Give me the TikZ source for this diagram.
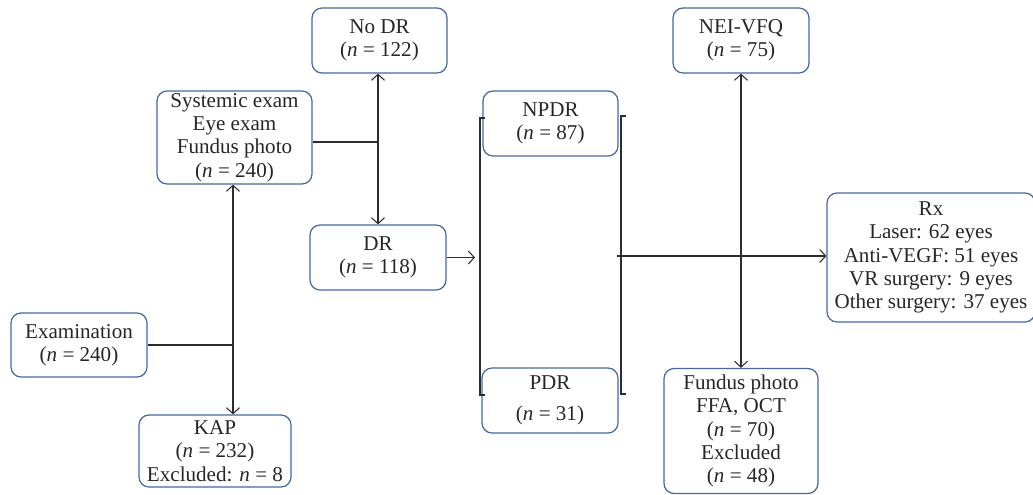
\documentclass[tikz,border=0pt]{standalone}
\usepackage{fontspec}
\setmainfont{Liberation Serif}
\usetikzlibrary{arrows.meta}
\definecolor{boxblue}{RGB}{70,104,158}
\definecolor{linegray}{RGB}{45,45,45}

\begin{document}
\begin{tikzpicture}[x=0.02cm,y=-0.02cm,
    box/.style={draw=boxblue, line width=0.7pt, rounded corners=0.2cm, align=center,
      inner sep=0pt, font=\fontsize{12}{13.3}\selectfont, text=black!85},
    conn/.style={draw=linegray, line width=0.6pt},
    arr/.style={conn, -{Straight Barb[length=3.4pt,width=7.4pt]}}]
    \useasboundingbox (0,0) rectangle (1033,494);

    % Draw left part
    \node[box, minimum width=2.72cm, minimum height=1.28cm] (exam) at (79,345) {Examination\\(\textit{n} = 240)};
    \node[box, minimum width=3.04cm, minimum height=1.44cm] (kap) at (215,451) {KAP\\(\textit{n} = 232)\\Excluded: \textit{n} = 8};
    \node[box, minimum width=3.1cm, minimum height=1.86cm] (sys) at (234.5,137.5) {Systemic exam\\Eye exam\\Fundus photo\\(\textit{n} = 240)};
    \coordinate (j1) at (233,345);
    \draw[conn] (exam.east) -- (j1);
    \draw[arr] (j1) -- (j1 |- sys.south);
    \draw[arr] (j1) -- (j1 |- kap.north);

    % Draw DR split
    \node[box, minimum width=2.7cm, minimum height=1.3cm] (nodr) at (379.5,40.5) {No DR\\(\textit{n} = 122)};
    \node[box, minimum width=2.72cm, minimum height=1.3cm] (dr) at (378,257.5) {DR\\(\textit{n} = 118)};
    \coordinate (j2) at (378,142);
    \draw[conn] (sys.east |- j2) -- (j2);
    \draw[arr] (j2) -- (j2 |- nodr.south);
    \draw[arr] (j2) -- (j2 |- dr.north);

    % Draw grading bracket
    \node[box, minimum width=2.7cm, minimum height=1.3cm] (npdr) at (550.5,123.5) {NPDR\\(\textit{n} = 87)};
    \node[box, minimum width=2.72cm, minimum height=1.3cm] (pdr) at (550,400.5) {PDR\\[4pt](\textit{n} = 31)};
    \coordinate (bl1) at (480,118);
    \coordinate (bl2) at (480,395);
    \coordinate (br1) at (621,116);
    \coordinate (br2) at (621,394);
    \draw[arr] (dr.east) -- (475,257.5);
    \draw[conn] ([xshift=3]bl1) -- (bl1) -- (bl2) -- ([xshift=3]bl2);
    \draw[conn] ([xshift=3]br1) -- (br1) -- (br2) -- ([xshift=3]br2);

    % Draw right part
    \node[box, minimum width=2.72cm, minimum height=1.3cm] (nei) at (741,40.5) {NEI-VFQ\\(\textit{n} = 75)};
    \node[box, minimum width=3.08cm, minimum height=2.5cm] (fund) at (741,431) {Fundus photo\\FFA, OCT\\(\textit{n} = 70)\\Excluded\\(\textit{n} = 48)};
    \node[box, minimum width=4.16cm, minimum height=2.58cm] (rx) at (931,257.5) {Rx\\Laser: 62 eyes\\Anti-VEGF: 51 eyes\\VR surgery: 9 eyes\\Other surgery: 37 eyes};
    \coordinate (j3) at (617,256);
    \draw[arr] (j3) -- (j3 -| rx.west);
    \draw[arr] (nei.south |- j3) -- (nei.south);
    \draw[arr] (nei.south |- j3) -- (fund.north);
\end{tikzpicture}
\end{document}
